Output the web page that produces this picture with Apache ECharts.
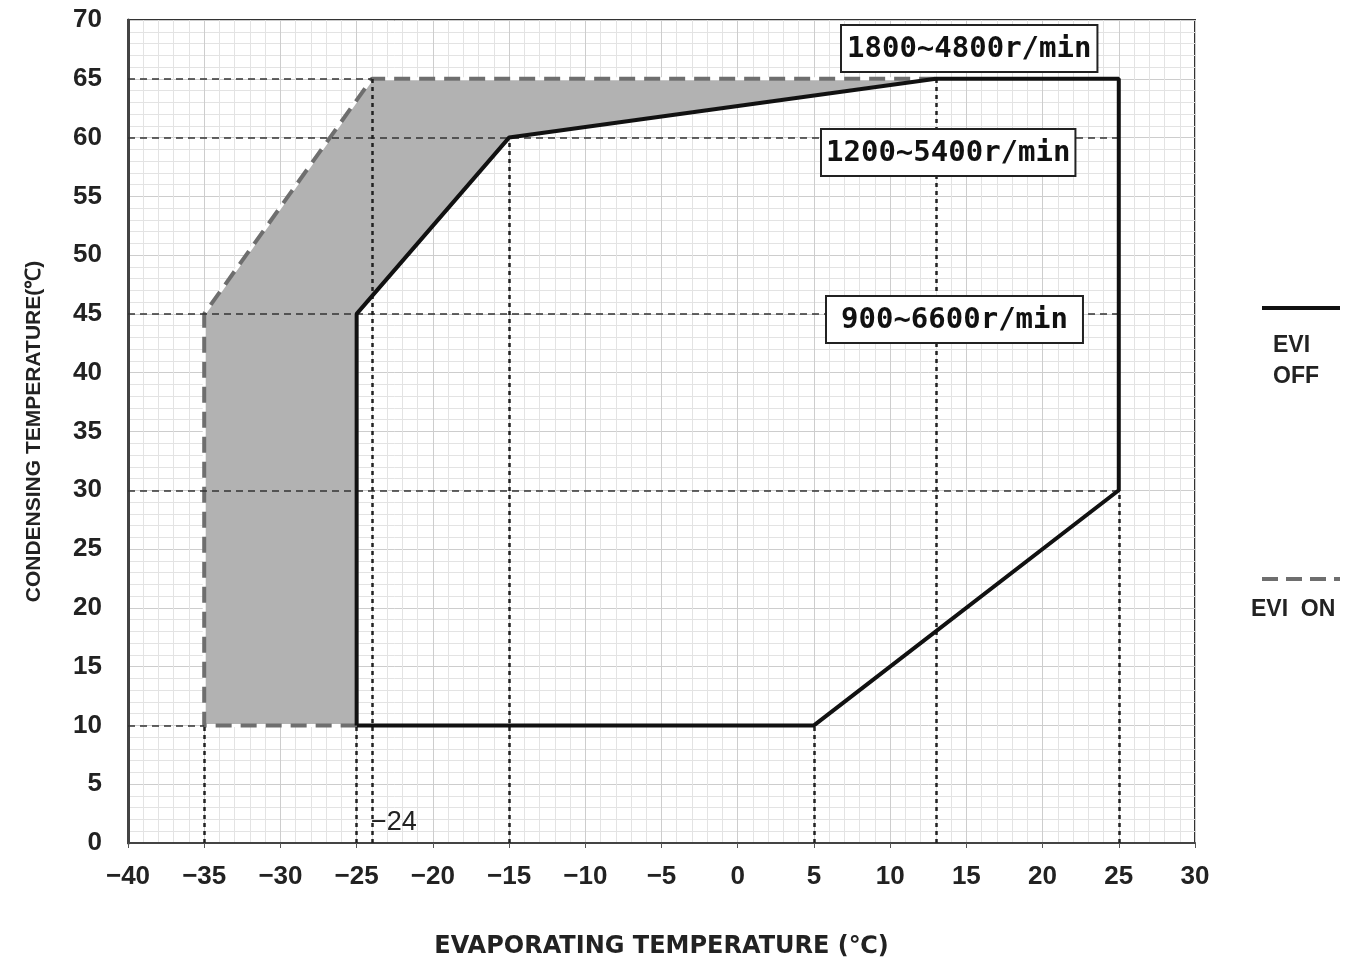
<!DOCTYPE html>
<html>
<head>
<meta charset="utf-8">
<script src="https://cdn.jsdelivr.net/npm/echarts@6/dist/echarts.min.js"></script>
<style>
  html, body { margin: 0; padding: 0; background: #fff; }
  #chart { width: 1365px; height: 963px; }
</style>
</head>
<body>
<div id="chart"></div>
<script>
// envelope points (evaporating, condensing)
const eviOff = [[-25, 10], [5, 10], [25, 30], [25, 65], [13, 65], [-15, 60], [-25, 45], [-25, 10]]
const eviOn = [[-25, 10], [-35, 10], [-35, 45], [-24, 65], [13, 65]]
const extraArea = [[-35, 10], [-35, 45], [-24, 65], [13, 65], [-15, 60], [-25, 45], [-25, 10]]

// reference lines: [y, xFrom, xTo] and [x, yFrom, yTo]
const refH = [[65, -40, -24], [60, -40, 25], [45, -40, 25], [30, -40, 25], [10, -40, -35]]
const refV = [[-35, 0, 10], [-25, 0, 10], [-24, 0, 65], [-15, 0, 60], [5, 0, 10], [13, 0, 65], [25, 0, 30]]

const speedLabels = ['1800~4800r/min', '1200~5400r/min', '900~6600r/min']

const chart = echarts.init(document.getElementById('chart'))

const minus = v => String(v).replace('-', '\u2212')
const boxStyle = (text, padX) => ({
  text: text,
  font: 'bold 29px "DejaVu Sans Mono"',
  fill: '#111',
  backgroundColor: '#fff',
  borderColor: '#222',
  borderWidth: 2,
  padding: [9, padX, 7, padX]
})

chart.setOption({
  animation: false,
  grid: {
    left: 128, right: 170, top: 20, bottom: 120,
    outerBoundsMode: 'none',
    show: true, borderColor: '#333', borderWidth: 2
  },
  xAxis: {
    type: 'value',
    min: -40,
    max: 30,
    interval: 5,
    name: 'EVAPORATING TEMPERATURE (\u2103)',
    nameLocation: 'middle',
    nameGap: 92,
    nameTextStyle: { fontFamily: 'DejaVu Sans', fontWeight: 'bold', fontSize: 24, color: '#222' },
    axisLine: { onZero: false, lineStyle: { color: '#444', width: 2 } },
    axisTick: { show: true, length: 5, lineStyle: { color: '#555' } },
    axisLabel: { formatter: minus, margin: 21, fontFamily: 'Liberation Sans', fontWeight: 'bold', fontSize: 26, color: '#222' },
    splitLine: { lineStyle: { color: '#cdcdcd', width: 1 } },
    minorTick: { show: false, splitNumber: 5 },
    minorSplitLine: { show: true, lineStyle: { color: '#e3e3e3', width: 1 } }
  },
  yAxis: {
    type: 'value',
    min: 0,
    max: 70,
    interval: 5,
    name: 'CONDENSING TEMPERATURE(\u2103)',
    nameLocation: 'middle',
    nameGap: 83,
    nameTextStyle: { fontFamily: 'Liberation Sans', fontWeight: 'bold', fontSize: 21, color: '#222' },
    axisLine: { show: true, onZero: false, lineStyle: { color: '#444', width: 3 } },
    axisTick: { show: false },
    axisLabel: { margin: 26, fontFamily: 'Liberation Sans', fontWeight: 'bold', fontSize: 26, color: '#222' },
    splitLine: { lineStyle: { color: '#cdcdcd', width: 1 } },
    minorTick: { show: false, splitNumber: 5 },
    minorSplitLine: { show: true, lineStyle: { color: '#e3e3e3', width: 1 } }
  },
  series: [
    {
      type: 'custom',
      coordinateSystem: 'cartesian2d',
      data: [[0, 0]],
      z: 2,
      renderItem: (params, api) => ({
        type: 'polygon',
        shape: { points: extraArea.map(p => api.coord(p)) },
        style: { fill: '#b2b2b2', stroke: '#fff', lineWidth: 3 }
      })
    },
    {
      type: 'line',
      data: [],
      z: 3,
      markLine: {
        silent: true,
        symbol: 'none',
        label: { show: false },
        lineStyle: { color: '#333', width: 1.5, type: [7, 5] },
        data: refH.map(r => [{ coord: [r[1], r[0]] }, { coord: [r[2], r[0]] }])
      }
    },
    {
      type: 'line',
      data: [],
      z: 3,
      markLine: {
        silent: true,
        symbol: 'none',
        label: { show: false },
        lineStyle: { color: '#222', width: 2.5, type: [4, 4] },
        data: refV.map(r => [{ coord: [r[0], r[1]] }, { coord: [r[0], r[2]] }])
      }
    },
    {
      name: 'EVI ON',
      type: 'line',
      data: eviOn,
      z: 4,
      symbol: 'none',
      lineStyle: { color: '#6e6e6e', width: 4, type: [16, 9] }
    },
    {
      name: 'EVI OFF',
      type: 'line',
      data: eviOff,
      z: 5,
      symbol: 'none',
      lineStyle: { color: '#111', width: 4 }
    }
  ],
  graphic: [
    { type: 'text', left: 840, top: 24, z: 10, style: boxStyle(speedLabels[0], 5) },
    { type: 'text', left: 820, top: 128, z: 10, style: boxStyle(speedLabels[1], 4) },
    { type: 'text', left: 825, top: 295, z: 10, style: boxStyle(speedLabels[2], 14) },
    { type: 'text', left: 371, top: 809, z: 10, style: { text: '\u221224', font: '27px "Liberation Sans"', fill: '#222' } },
    { type: 'line', shape: { x1: 1262, y1: 308, x2: 1340, y2: 308 }, style: { stroke: '#111', lineWidth: 4 } },
    { type: 'text', left: 1273, top: 330, style: { text: 'EVI\nOFF', font: 'bold 23px "Liberation Sans"', fill: '#222', lineHeight: 31 } },
    { type: 'line', shape: { x1: 1262, y1: 579, x2: 1340, y2: 579 }, style: { stroke: '#6e6e6e', lineWidth: 4, lineDash: [16, 8] } },
    { type: 'text', left: 1251, top: 598, style: { text: 'EVI  ON', font: 'bold 23px "Liberation Sans"', fill: '#222' } }
  ]
})
</script>
</body>
</html>
